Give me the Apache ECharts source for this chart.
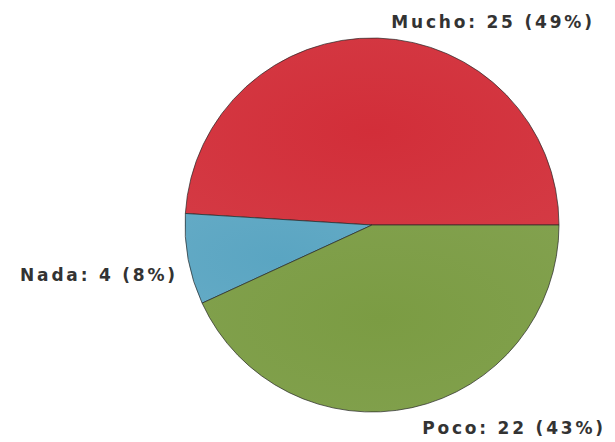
<!DOCTYPE html>
<html><head><meta charset="utf-8">
<script src="https://cdn.jsdelivr.net/npm/echarts@6/dist/echarts.min.js"></script>
<style>html,body{margin:0;padding:0;background:#fff}#c{width:615px;height:442px}#c svg text{letter-spacing:2.8px}</style>
</head><body><div id="c"></div>
<script>
var categories = ['Mucho', 'Nada', 'Poco'];
var values = [25, 4, 22];
var colors = ['#d22e39', '#5aa5c2', '#7b9c43'];
var labelPos = [[493, 22], [99, 275], [514, 428]];

function grad(c) {
  return new echarts.graphic.RadialGradient(0.5, 0.5, 0.7, [
    {offset: 0, color: c},
    {offset: 1, color: echarts.color.lift(c, 0.06)}
  ]);
}
var total = values.reduce(function(a, b){return a + b;}, 0);
var chart = echarts.init(document.getElementById('c'), null, {renderer: 'svg'});
chart.setOption({
  animation: false,
  series: [{
    type: 'pie',
    center: [372, 225],
    radius: 187,
    startAngle: 0,
    clockwise: false,
    data: categories.map(function(n, i){
      return {name: n, value: values[i], itemStyle: {color: grad(colors[i])}};
    }),
    itemStyle: {borderColor: 'rgba(40,40,40,0.7)', borderWidth: 1},
    label: {
      show: true,
      position: 'outside',
      fontFamily: 'DejaVu Sans',
      fontWeight: 'bold',
      fontSize: 17,
      color: '#333',
      formatter: function(p){ return p.name + ': ' + p.value + ' (' + Math.round(p.value / total * 100) + '%)'; }
    },
    labelLine: {show: false},
    labelLayout: function(p){
      var pos = labelPos[p.dataIndex];
      return {x: pos[0], y: pos[1], align: 'center', verticalAlign: 'middle'};
    }
  }]
});
</script></body></html>
